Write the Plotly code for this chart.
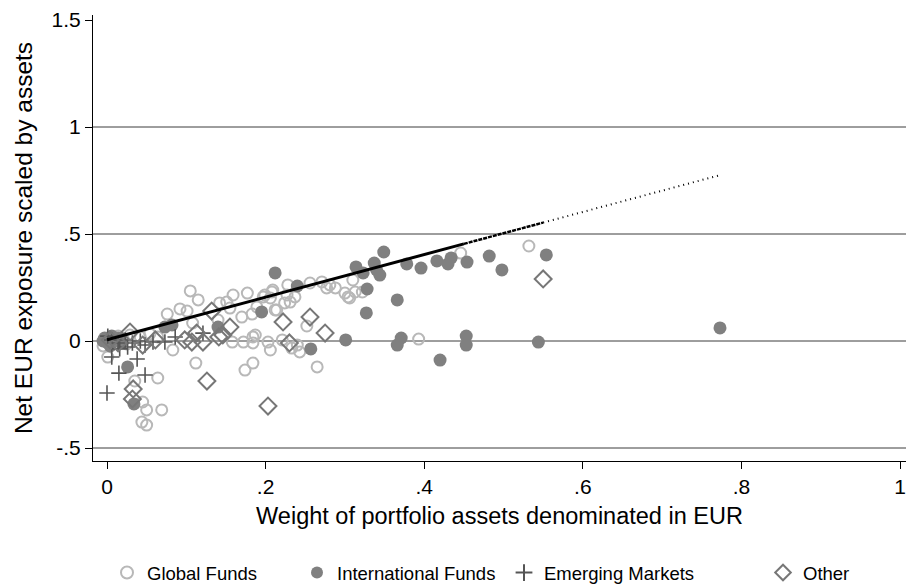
import plotly.graph_objects as go

# ---------------- data ----------------
global_x = [0.105, 0.115, 0.076, 0.092, 0.101, 0.142, 0.159, 0.177, 0.151, 0.155, 0.170, 0.183,
            0.189, 0.197, 0.208, 0.214, 0.224, 0.227, 0.083, 0.064, 0.112, 0.174, 0.184, 0.221,
            0.158, 0.184, 0.184, 0.203, 0.206, 0.001, 0.035, 0.045, 0.050, 0.069, 0.044, 0.050,
            0.108, 0.140, 0.172, 0.209, 0.228, 0.199, 0.206, 0.231, 0.237, 0.256, 0.277, 0.281,
            0.300, 0.212, 0.187, 0.243, 0.240, 0.252, 0.265, 0.233, 0.271, 0.288, 0.306, 0.310,
            0.313, 0.304, 0.322, 0.446, 0.532, 0.393, -0.005, 0.004, 0.014, 0.021, 0.029, 0.025,
            0.042, 0.054, 0.064]
global_y = [0.234, 0.192, 0.126, 0.150, 0.140, 0.178, 0.215, 0.224, 0.182, 0.154, 0.112, 0.126,
            0.159, 0.206, 0.229, 0.145, 0.178, 0.215, -0.042, -0.173, -0.103, -0.136, -0.103, 0.005,
            -0.005, 0.019, -0.009, -0.005, -0.042, -0.075, -0.187, -0.285, -0.322, -0.322, -0.379, -0.393,
            0.084, 0.098, -0.005, 0.238, 0.262, 0.215, 0.201, 0.182, 0.206, 0.271, 0.248, 0.262,
            0.224, 0.145, 0.028, -0.051, -0.019, 0.070, -0.121, -0.033, 0.276, 0.248, 0.201, 0.285,
            0.229, 0.206, 0.229, 0.411, 0.444, 0.009, -0.023, 0.014, 0.023, 0.005, 0.028, -0.014,
            0.019, 0.033, 0.019]

intl_x = [0.349, 0.314, 0.337, 0.323, 0.344, 0.340, 0.328, 0.366, 0.327, 0.378, 0.396, 0.416,
          0.434, 0.430, 0.454, 0.482, 0.498, 0.554, 0.257, 0.301, 0.371, 0.366, 0.420, 0.453,
          0.453, 0.544, 0.773, 0.212, 0.240, 0.195, 0.140, 0.026, 0.034, 0.073, 0.082,
          -0.003, 0.001, 0.006, 0.010, 0.004, 0.014, -0.005, 0.018]
intl_y = [0.416, 0.346, 0.364, 0.318, 0.308, 0.332, 0.243, 0.192, 0.131, 0.360, 0.341, 0.374,
          0.388, 0.360, 0.369, 0.397, 0.332, 0.402, -0.037, 0.005, 0.014, -0.019, -0.089, 0.023,
          -0.019, -0.005, 0.061, 0.318, 0.257, 0.136, 0.065, -0.121, -0.294, 0.065, 0.075,
          0.014, -0.009, 0.023, 0.000, -0.023, 0.014, 0.000, -0.009]

em_x = [0.000, 0.006, 0.015, 0.038, 0.048, 0.058, 0.073, 0.086, 0.121,
        0.001, 0.006, 0.014, 0.023, 0.032, 0.042, 0.016, 0.026, 0.048]
em_y = [-0.243, -0.075, -0.150, -0.084, -0.159, -0.005, -0.005, 0.019, 0.037,
        0.023, 0.005, -0.009, 0.005, -0.009, 0.000, -0.037, -0.028, -0.019]

other_x = [0.132, 0.155, 0.126, 0.033, 0.032, 0.203, 0.222, 0.141, 0.113, 0.107, 0.098, 0.121,
           0.146, 0.045, 0.029, 0.230, 0.256, 0.275, 0.550, 0.004, 0.014, 0.061]
other_y = [0.140, 0.065, -0.187, -0.224, -0.271, -0.304, 0.089, 0.019, 0.037, -0.005, 0.005, -0.005,
           0.028, -0.019, 0.042, -0.009, 0.112, 0.037, 0.290, 0.005, -0.009, 0.005]

# fitted line (intercept, slope) and segment breakpoints
fit_intercept = 0.006
fit_slope = 0.995
fit_solid_x = [0.0, 0.45]
fit_dash_x = [0.45, 0.55]
fit_dot_x = [0.55, 0.773]

x_ticks = [0, 0.2, 0.4, 0.6, 0.8, 1]
x_ticklabels = ["0", ".2", ".4", ".6", ".8", "1"]
y_ticks = [-0.5, 0, 0.5, 1, 1.5]
y_ticklabels = ["-.5", "0", ".5", "1", "1.5"]
grid_y = [-0.5, 0, 0.5, 1]

FONT = "Liberation Sans, Arial, Helvetica, sans-serif"

def fit(xs):
    return [fit_intercept + fit_slope * v for v in xs]

fig = go.Figure()

fig.add_trace(go.Scatter(
    x=global_x, y=global_y, mode="markers", name="Global Funds", legend="legend",
    marker=dict(symbol="circle-open", size=11, color="#b8b8b8", line=dict(width=2, color="#b8b8b8"))))
fig.add_trace(go.Scatter(
    x=intl_x, y=intl_y, mode="markers", name="International Funds", legend="legend2",
    marker=dict(symbol="circle", size=13, color="#808080", line=dict(width=0))))
fig.add_trace(go.Scatter(
    x=em_x, y=em_y, mode="markers", name="Emerging Markets", legend="legend3",
    marker=dict(symbol="cross-thin-open", size=11, color="#555555", line=dict(width=1.6, color="#555555"))))
fig.add_trace(go.Scatter(
    x=other_x, y=other_y, mode="markers", name="Other", legend="legend4",
    marker=dict(symbol="diamond-open", size=13, color="#777777", line=dict(width=2, color="#777777"))))

fig.add_trace(go.Scatter(x=fit_solid_x, y=fit(fit_solid_x), mode="lines", showlegend=False,
                         line=dict(color="black", width=3)))
fig.add_trace(go.Scatter(x=fit_dash_x, y=fit(fit_dash_x), mode="lines", showlegend=False,
                         line=dict(color="black", width=2.5, dash="4px,1px")))
fig.add_trace(go.Scatter(x=fit_dot_x, y=fit(fit_dot_x), mode="lines", showlegend=False,
                         line=dict(color="black", width=2, dash="1px,4px")))

for gy in grid_y:
    fig.add_shape(type="line", xref="paper", x0=0, x1=1, yref="y", y0=gy, y1=gy,
                  line=dict(color="#3c3c3c", width=1), layer="below")

W, H = 906, 586
ml, mr, mt, mb = 93, 0, 15, 125
pw = W - ml - mr
ph = H - mt - mb

def lx(px):
    return (px - ml) / pw

leg_y = (H - mb - 573) / ph
legend_common = dict(orientation="h", xanchor="left", yanchor="middle", y=leg_y,
                     font=dict(family=FONT, size=18.5, color="black"),
                     bgcolor="rgba(0,0,0,0)", borderwidth=0, itemsizing="constant")

fig.update_layout(
    width=W, height=H,
    margin=dict(l=ml, r=mr, t=mt, b=mb, pad=0, autoexpand=False),
    paper_bgcolor="white", plot_bgcolor="white",
    font=dict(family=FONT, size=18, color="black"),
    legend=dict(x=lx(107), **legend_common),
    legend2=dict(x=lx(297), **legend_common),
    legend3=dict(x=lx(504), **legend_common),
    legend4=dict(x=lx(763), **legend_common),
    xaxis=dict(range=[(ml - 107) / 793, (W - 107) / 793], tickvals=x_ticks, ticktext=x_ticklabels,
               showgrid=False, zeroline=False, showline=True, linecolor="black", linewidth=1,
               ticks="outside", ticklen=7, tickcolor="black", tickwidth=1, automargin=False,
               tickfont=dict(size=21),
               title=dict(text="Weight of portfolio assets denominated in EUR", font=dict(size=23.5), standoff=10)),
    yaxis=dict(range=[(341 - (H - mb)) / 214, (341 - mt) / 214], tickvals=y_ticks, ticktext=y_ticklabels,
               showgrid=False, zeroline=False, showline=True, linecolor="black", linewidth=1,
               ticks="outside", ticklen=7, tickcolor="black", tickwidth=1, automargin=False,
               tickfont=dict(size=21),
               title=dict(text="Net EUR exposure scaled by assets", font=dict(size=24.5), standoff=12)),
)

fig.write_html("out.html", config={"displayModeBar": False},
               post_script="document.body.style.margin='0';document.body.style.padding='0';")
